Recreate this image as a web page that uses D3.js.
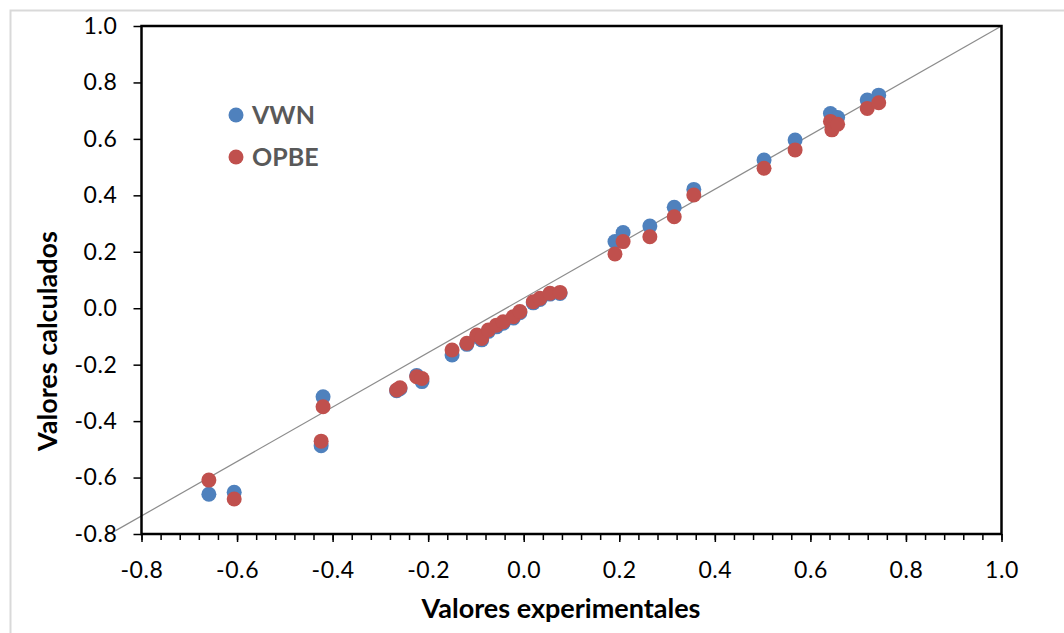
<!DOCTYPE html>
<html><head><meta charset="utf-8">
<script src="https://cdn.jsdelivr.net/npm/d3@7"></script>
<style>body{margin:0;background:#fff}svg text{font-family:"Lato","Open Sans",sans-serif}</style>
</head><body><svg id="c" width="1064" height="633"></svg>
<script>
const expX = [-0.659,-0.606,-0.420,-0.424,-0.266,-0.259,-0.224,-0.213,-0.150,-0.119,-0.098,-0.088,-0.074,-0.057,-0.043,-0.022,-0.008,0.020,0.034,0.055,0.076,0.191,0.208,0.264,0.315,0.356,0.503,0.568,0.642,0.645,0.657,0.719,0.743];
const vwnY = [-0.659,-0.652,-0.314,-0.487,-0.292,-0.285,-0.238,-0.260,-0.166,-0.128,-0.100,-0.112,-0.082,-0.066,-0.053,-0.035,-0.016,0.019,0.031,0.050,0.052,0.236,0.268,0.291,0.358,0.421,0.525,0.596,0.690,0.665,0.676,0.738,0.755];
const opbeY = [-0.609,-0.676,-0.349,-0.471,-0.290,-0.282,-0.243,-0.249,-0.148,-0.124,-0.095,-0.107,-0.077,-0.060,-0.048,-0.030,-0.012,0.023,0.035,0.053,0.056,0.192,0.236,0.253,0.324,0.401,0.496,0.561,0.662,0.632,0.652,0.708,0.728];
const seriesNames = ["VWN","OPBE"];
const seriesColors = ["#4f81bd","#c0504d"];
const refLine = [[-0.855,-0.789],[1.0,1.0]];
const tickVals = [-0.8,-0.6,-0.4,-0.2,0.0,0.2,0.4,0.6,0.8,1.0];
const minorX = d3.range(-0.8,1.0001,0.04);

const svg = d3.select("#c");
const L=141.5,R=1001.5,T=26,B=534;
const x = d3.scaleLinear().domain([-0.8,1.0]).range([L,R]);
const y = d3.scaleLinear().domain([-0.8,1.0]).range([B,T]);
const fmt = d => (Math.abs(d)<1e-9?0:d).toFixed(1);

svg.append("rect").attr("x",10.5).attr("y",10.5).attr("width",1100).attr("height",700)
  .attr("fill","#fff").attr("stroke","#d9d9d9").attr("stroke-width",2);

// minor x ticks
svg.append("g").attr("transform",`translate(0,${B})`)
  .call(d3.axisBottom(x).tickValues(minorX).tickSize(6).tickFormat(""))
  .call(g=>{g.select(".domain").remove();g.selectAll("line").attr("stroke","#000").attr("stroke-width",1.5);});
// major x ticks
svg.append("g").attr("transform",`translate(0,${B})`)
  .call(d3.axisBottom(x).tickValues(tickVals).tickSize(8).tickPadding(20).tickFormat(fmt))
  .call(g=>{g.select(".domain").remove();g.selectAll("line").attr("stroke","#000").attr("stroke-width",1.5);
    g.selectAll("text").attr("font-size",23).attr("letter-spacing",0.6).attr("fill","#000").attr("font-family","Lato");});
// y ticks
svg.append("g").attr("transform",`translate(${L},0)`)
  .call(d3.axisLeft(y).tickValues(tickVals).tickSize(8).tickPadding(16).tickFormat(fmt))
  .call(g=>{g.select(".domain").remove();g.selectAll("line").attr("stroke","#000").attr("stroke-width",1.5);
    g.selectAll("text").attr("font-size",23).attr("letter-spacing",0.6).attr("fill","#000").attr("font-family","Lato");});

// reference line
svg.append("line").attr("x1",x(refLine[0][0])).attr("y1",y(refLine[0][1]))
  .attr("x2",x(refLine[1][0])).attr("y2",y(refLine[1][1]))
  .attr("stroke","#8c8c8c").attr("stroke-width",1.2);

// plot box
svg.append("rect").attr("x",L).attr("y",T).attr("width",R-L).attr("height",B-T)
  .attr("fill","none").attr("stroke","#000").attr("stroke-width",2.5);

const data = [vwnY, opbeY];
data.forEach((ys,i)=>{
  svg.append("g").selectAll("circle").data(expX).join("circle")
    .attr("cx",d=>x(d)).attr("cy",(d,j)=>y(ys[j])).attr("r",7.5)
    .attr("fill",seriesColors[i]);
});

// legend
seriesNames.forEach((n,i)=>{
  const ly = 115 + i*42;
  svg.append("circle").attr("cx",236).attr("cy",ly).attr("r",7.5).attr("fill",seriesColors[i]);
  svg.append("text").attr("x",252).attr("y",ly+9).text(n).attr("font-size",25)
    .attr("font-weight","bold").attr("fill","#595959");
});

svg.append("text").attr("x",561).attr("y",618).attr("text-anchor","middle")
  .attr("font-size",27).attr("font-weight","bold").text("Valores experimentales");
svg.append("text").attr("transform",`translate(57,341) rotate(-90)`).attr("text-anchor","middle")
  .attr("font-size",27).attr("font-weight","bold").text("Valores calculados");
</script></body></html>
